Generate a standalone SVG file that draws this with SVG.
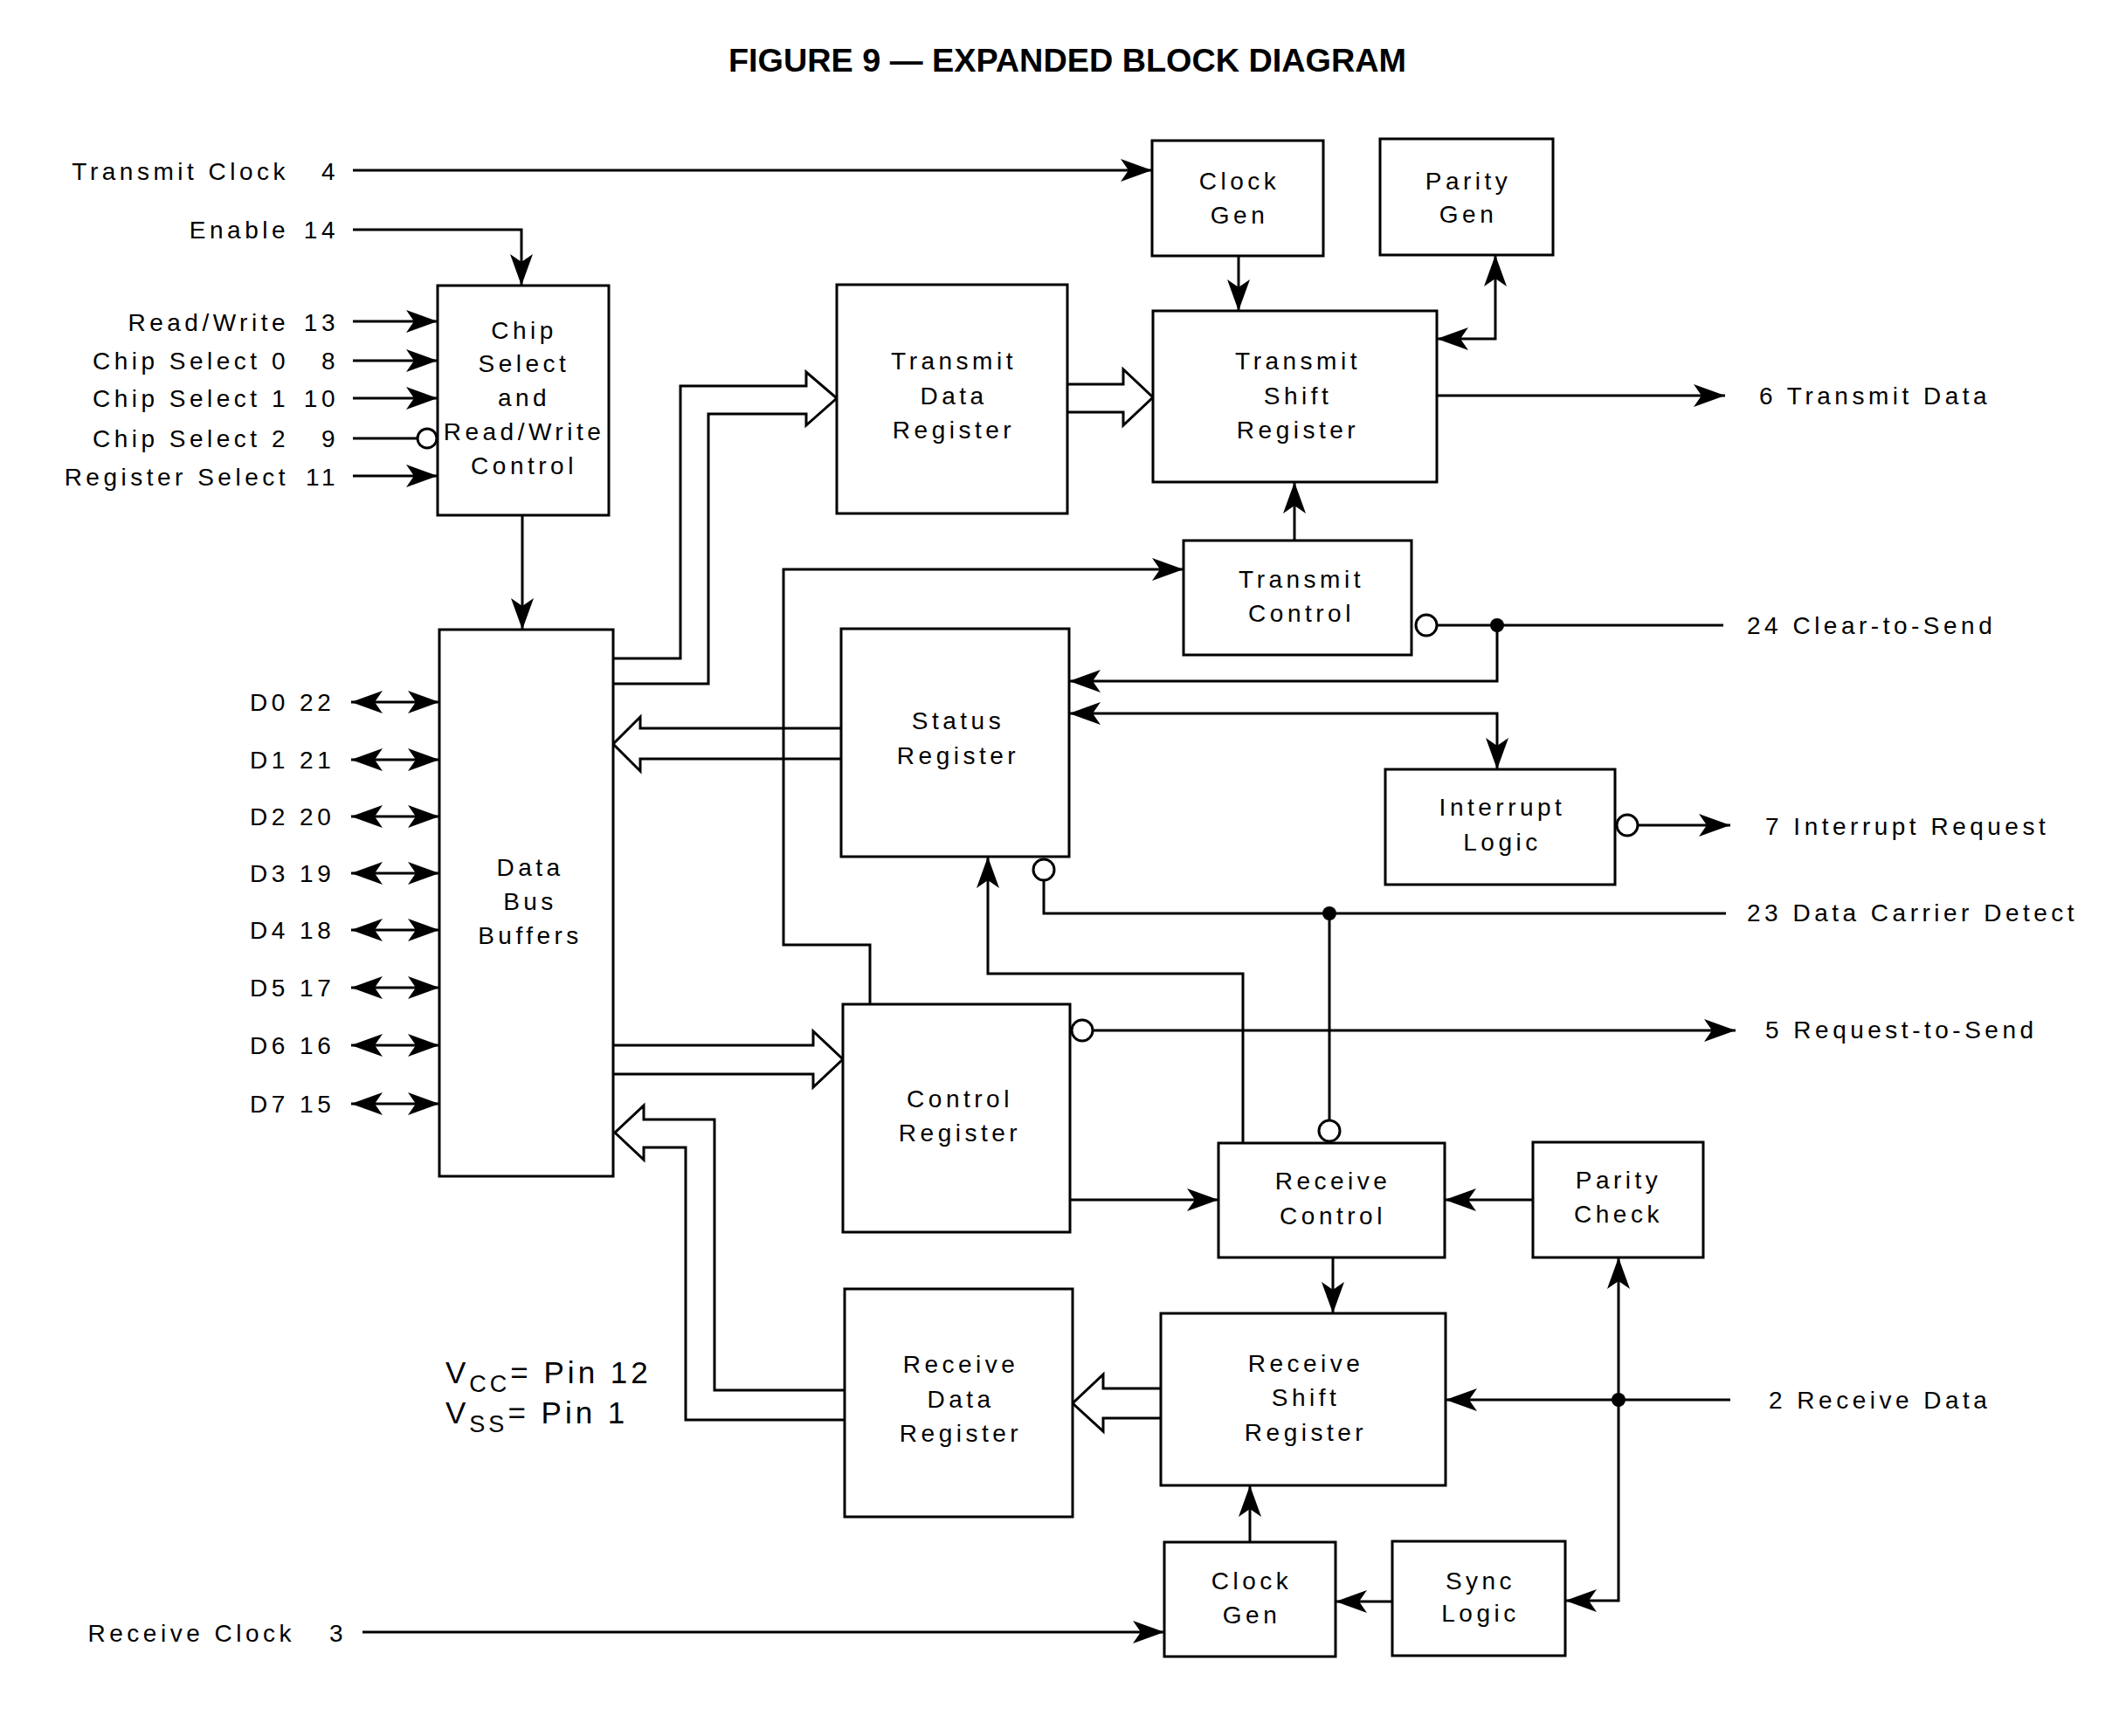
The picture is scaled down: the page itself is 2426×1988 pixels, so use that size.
<svg xmlns="http://www.w3.org/2000/svg" width="2426" height="1988" viewBox="0 0 2426 1988">
<style>
.box{fill:#fff;stroke:#000;stroke-width:3}
.w{fill:none;stroke:#000;stroke-width:3}
.bus{fill:#fff;stroke:#000;stroke-width:3;stroke-linejoin:miter}
.a{marker-end:url(#ah)}
.ab{marker-start:url(#ah);marker-end:url(#ah)}
.bub{fill:#fff;stroke:#000;stroke-width:3}
.dot{fill:#000}
text{font-family:"Liberation Sans",Arial,Helvetica,sans-serif;font-size:28px;letter-spacing:4.5px;fill:#000}
.c{text-anchor:middle}
.e{text-anchor:end}
.title{font-size:36px;font-weight:bold;letter-spacing:0}
.pw{font-size:35px;letter-spacing:4px}
.sub{font-size:27px}
</style>
<defs>
<marker id="ah" viewBox="-38 -14 40 28" refX="0" refY="0" markerWidth="40" markerHeight="28" markerUnits="userSpaceOnUse" orient="auto-start-reverse">
<path d="M0,0 L-36,-13 L-27,0 L-36,13 Z" fill="#000"/>
</marker>
</defs>
<rect width="2426" height="1988" fill="#fff"/>

<text class="title c" x="1222" y="82" textLength="776" lengthAdjust="spacingAndGlyphs">FIGURE 9 — EXPANDED BLOCK DIAGRAM</text>

<g id="connectors">
  <!-- pin inputs -->
  <path class="w a" d="M404,195 H1319"/>
  <path class="w a" d="M404,263 H597 V327"/>
  <path class="w a" d="M404,368 H501"/>
  <path class="w a" d="M404,413 H501"/>
  <path class="w a" d="M404,456 H501"/>
  <path class="w" d="M404,502 H477"/>
  <circle class="bub" cx="489" cy="502" r="11"/>
  <path class="w a" d="M404,545 H501"/>
  <path class="w a" d="M598,590 V721"/>
  <!-- data lines -->
  <path class="w ab" d="M402,804 H503"/>
  <path class="w ab" d="M402,870 H503"/>
  <path class="w ab" d="M402,935 H503"/>
  <path class="w ab" d="M402,1000 H503"/>
  <path class="w ab" d="M402,1065 H503"/>
  <path class="w ab" d="M402,1131 H503"/>
  <path class="w ab" d="M402,1197 H503"/>
  <path class="w ab" d="M402,1264 H503"/>
  <!-- buses -->
  <path class="bus" d="M702,754 H779 V442 H923 V426 L958,456 L923,487 V474 H811 V783 H702"/>
  <path class="bus" d="M1222,440 H1286 V423 L1320,455 L1286,487 V472 H1222"/>
  <path class="bus" d="M963,834 H733 V821 L702,852 L733,883 V869 H963"/>
  <path class="bus" d="M702,1197 H931 V1181 L965,1213 L931,1245 V1230 H702"/>
  <path class="bus" d="M967,1592 H818 V1282 H737 V1266 L704,1297 L737,1328 V1314 H785 V1626 H967"/>
  <path class="bus" d="M1329,1590 H1263 V1574 L1228,1607 L1263,1639 V1624 H1329"/>
  <!-- transmit section -->
  <path class="w a" d="M1418,293 V356"/>
  <path class="w ab" d="M1645,388 H1712 V292"/>
  <path class="w a" d="M1645,453 H1975"/>
  <path class="w a" d="M1482,619 V552"/>
  <path class="w a" d="M996,1150 V1082 H897 V652 H1355"/>
  <circle class="bub" cx="1633" cy="716" r="12"/>
  <path class="w" d="M1645,716 H1973"/>
  <path class="w a" d="M1714,716 V780 H1224"/>
  <circle class="dot" cx="1714" cy="716" r="8"/>
  <path class="w ab" d="M1224,817 H1714 V881"/>
  <circle class="bub" cx="1863" cy="945" r="12"/>
  <path class="w a" d="M1875,945 H1981"/>
  <!-- DCD -->
  <circle class="bub" cx="1195" cy="996" r="12"/>
  <path class="w" d="M1195,1008 V1046 H1976"/>
  <circle class="dot" cx="1522" cy="1046" r="8"/>
  <path class="w" d="M1522,1046 V1283"/>
  <circle class="bub" cx="1522" cy="1295" r="12"/>
  <!-- RTS -->
  <circle class="bub" cx="1239" cy="1180" r="12"/>
  <path class="w a" d="M1251,1180 H1987"/>
  <!-- receive section -->
  <path class="w a" d="M1423,1309 V1115 H1131 V981"/>
  <path class="w a" d="M1225,1374 H1395"/>
  <path class="w a" d="M1755,1374 H1654"/>
  <path class="w a" d="M1526,1440 V1504"/>
  <path class="w a" d="M1981,1603 H1655"/>
  <circle class="dot" cx="1853" cy="1603" r="8"/>
  <path class="w a" d="M1853,1603 V1440"/>
  <path class="w a" d="M1853,1603 V1833 H1792"/>
  <path class="w a" d="M1594,1834 H1529"/>
  <path class="w a" d="M1431,1766 V1701"/>
  <path class="w a" d="M415,1869 H1333"/>
</g>

<g id="pin-labels">
  <text class="e" x="331" y="206">Transmit Clock</text><text class="e" x="388" y="206">4</text>
  <text class="e" x="331" y="273">Enable</text><text class="e" x="388" y="273">14</text>
  <text class="e" x="331" y="379">Read/Write</text><text class="e" x="388" y="379">13</text>
  <text class="e" x="331" y="423">Chip Select 0</text><text class="e" x="388" y="423">8</text>
  <text class="e" x="331" y="466">Chip Select 1</text><text class="e" x="388" y="466">10</text>
  <text class="e" x="331" y="512">Chip Select 2</text><text class="e" x="388" y="512">9</text>
  <text class="e" x="331" y="556">Register Select</text><text class="e" x="388" y="556">11</text>
  <text x="286" y="814">D0 22</text>
  <text x="286" y="880">D1 21</text>
  <text x="286" y="945">D2 20</text>
  <text x="286" y="1010">D3 19</text>
  <text x="286" y="1075">D4 18</text>
  <text x="286" y="1141">D5 17</text>
  <text x="286" y="1207">D6 16</text>
  <text x="286" y="1274">D7 15</text>
  <text class="e" x="338" y="1880">Receive Clock</text><text class="e" x="397" y="1880">3</text>
  <text x="2014" y="463">6 Transmit Data</text>
  <text x="2000" y="726">24 Clear-to-Send</text>
  <text x="2021" y="956">7 Interrupt Request</text>
  <text x="2000" y="1055">23 Data Carrier Detect</text>
  <text x="2021" y="1189">5 Request-to-Send</text>
  <text x="2025" y="1613">2 Receive Data</text>
  <text class="pw" x="510" y="1584">V<tspan class="sub" dy="10">CC</tspan><tspan dy="-10">= Pin 12</tspan></text>
  <text class="pw" x="510" y="1630">V<tspan class="sub" dy="10">SS</tspan><tspan dy="-10">= Pin 1</tspan></text>
</g>

<g id="chip-select">
  <rect class="box" x="501" y="327" width="196" height="263"/>
  <text class="c" x="600" y="388">Chip</text>
  <text class="c" x="600" y="426">Select</text>
  <text class="c" x="600" y="465">and</text>
  <text class="c" x="600" y="504">Read/Write</text>
  <text class="c" x="600" y="543">Control</text>
</g>
<g id="data-bus-buffers">
  <rect class="box" x="503" y="721" width="199" height="626"/>
  <text class="c" x="607" y="1003">Data</text>
  <text class="c" x="607" y="1042">Bus</text>
  <text class="c" x="607" y="1081">Buffers</text>
</g>
<g id="transmit-data-register">
  <rect class="box" x="958" y="326" width="264" height="262"/>
  <text class="c" x="1092" y="423">Transmit</text>
  <text class="c" x="1092" y="463">Data</text>
  <text class="c" x="1092" y="502">Register</text>
</g>
<g id="tx-clock-gen">
  <rect class="box" x="1319" y="161" width="196" height="132"/>
  <text class="c" x="1419" y="217">Clock</text>
  <text class="c" x="1419" y="256">Gen</text>
</g>
<g id="parity-gen">
  <rect class="box" x="1580" y="159" width="198" height="133"/>
  <text class="c" x="1681" y="217">Parity</text>
  <text class="c" x="1681" y="255">Gen</text>
</g>
<g id="transmit-shift-register">
  <rect class="box" x="1320" y="356" width="325" height="196"/>
  <text class="c" x="1486" y="423">Transmit</text>
  <text class="c" x="1486" y="463">Shift</text>
  <text class="c" x="1486" y="502">Register</text>
</g>
<g id="transmit-control">
  <rect class="box" x="1355" y="619" width="261" height="131"/>
  <text class="c" x="1490" y="673">Transmit</text>
  <text class="c" x="1490" y="712">Control</text>
</g>
<g id="status-register">
  <rect class="box" x="963" y="720" width="261" height="261"/>
  <text class="c" x="1097" y="835">Status</text>
  <text class="c" x="1097" y="875">Register</text>
</g>
<g id="interrupt-logic">
  <rect class="box" x="1586" y="881" width="263" height="132"/>
  <text class="c" x="1720" y="934">Interrupt</text>
  <text class="c" x="1720" y="974">Logic</text>
</g>
<g id="control-register">
  <rect class="box" x="965" y="1150" width="260" height="261"/>
  <text class="c" x="1099" y="1268">Control</text>
  <text class="c" x="1099" y="1307">Register</text>
</g>
<g id="receive-control">
  <rect class="box" x="1395" y="1309" width="259" height="131"/>
  <text class="c" x="1526" y="1362">Receive</text>
  <text class="c" x="1526" y="1402">Control</text>
</g>
<g id="parity-check">
  <rect class="box" x="1755" y="1308" width="195" height="132"/>
  <text class="c" x="1853" y="1361">Parity</text>
  <text class="c" x="1853" y="1400">Check</text>
</g>
<g id="receive-data-register">
  <rect class="box" x="967" y="1476" width="261" height="261"/>
  <text class="c" x="1100" y="1572">Receive</text>
  <text class="c" x="1100" y="1612">Data</text>
  <text class="c" x="1100" y="1651">Register</text>
</g>
<g id="receive-shift-register">
  <rect class="box" x="1329" y="1504" width="326" height="197"/>
  <text class="c" x="1495" y="1571">Receive</text>
  <text class="c" x="1495" y="1610">Shift</text>
  <text class="c" x="1495" y="1650">Register</text>
</g>
<g id="rx-clock-gen">
  <rect class="box" x="1333" y="1766" width="196" height="131"/>
  <text class="c" x="1433" y="1820">Clock</text>
  <text class="c" x="1433" y="1859">Gen</text>
</g>
<g id="sync-logic">
  <rect class="box" x="1594" y="1765" width="198" height="131"/>
  <text class="c" x="1695" y="1820">Sync</text>
  <text class="c" x="1695" y="1857">Logic</text>
</g>
</svg>
